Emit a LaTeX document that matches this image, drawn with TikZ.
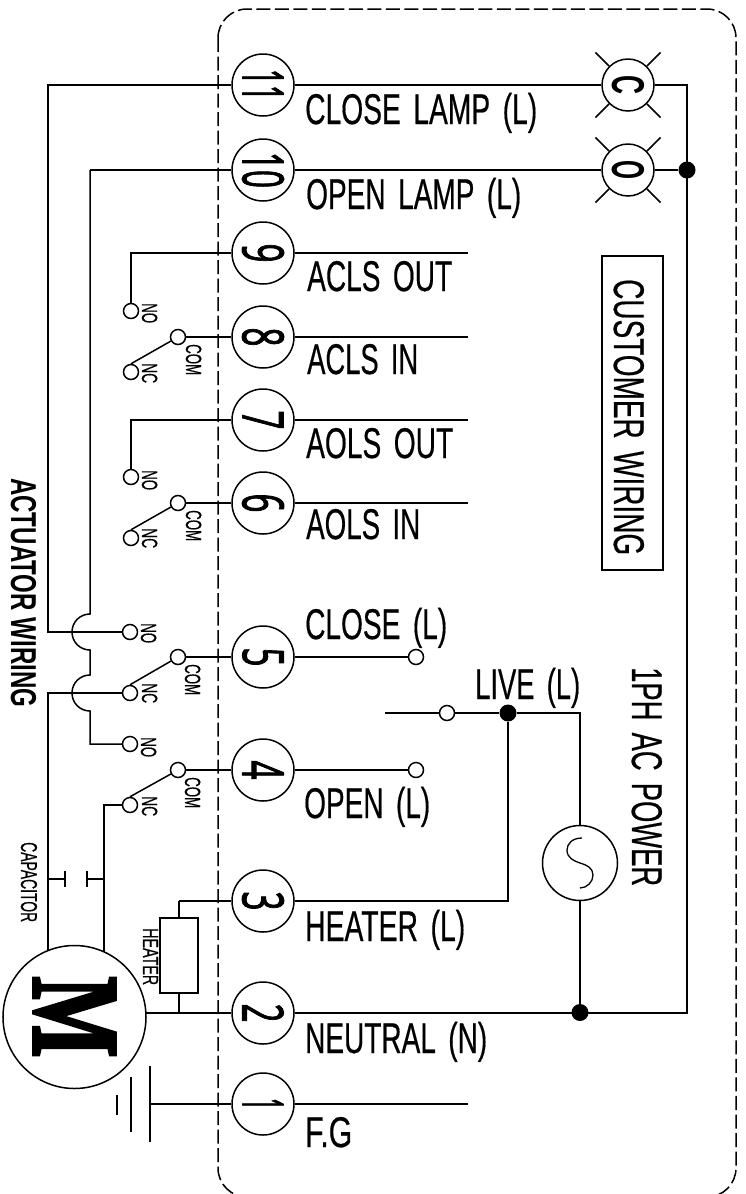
\documentclass[tikz,border=0pt]{standalone}
\usepackage{fontspec}
\usepackage{graphicx}
\usetikzlibrary{calc}
\setmainfont[WordSpace=1.6,FakeBold=0.6]{Liberation Sans}
\newfontfamily\cadbold{Liberation Sans Bold}
\newfontfamily\digitfont[FakeBold=2]{Open Sans}
\newfontfamily\mfont[FakeBold=3]{Liberation Serif Bold}
\newcommand\tx[2]{\resizebox{#1bp}{\height}{#2}}
\tikzset{
  wire/.style={line width=1.5bp,black},
  lbl/.style={inner sep=0pt,anchor=base west,font=\fontsize{43bp}{43bp}\selectfont},
  vlbl/.style={lbl,rotate=-90},
  small/.style={vlbl,font=\fontsize{22bp}{22bp}\selectfont},
  term/.style={draw,circle,line width=1.5bp,minimum size=62bp,inner sep=0pt,rotate=-90,font=\digitfont\fontsize{57bp}{57bp}\selectfont},
  lamp/.style={draw,circle,line width=1.5bp,minimum size=52bp,inner sep=0pt,rotate=-90,font=\cadbold\fontsize{46bp}{46bp}\selectfont},
  pt/.style={draw,circle,fill=white,line width=1.5bp,minimum size=15bp,inner sep=0pt},
  dot/.style={circle,fill=black,minimum size=17bp,inner sep=0pt},
}
\begin{document}
\begin{tikzpicture}[x=1bp,y=-1bp]
\useasboundingbox (0,0) rectangle (746,1194);
% customer boundary
\draw[line width=1.5bp,dash pattern=on 14bp off 4.5bp,rounded corners=29bp] (218,9) rectangle (736,1197);
% terminals
\node[term] (t11) at (263,85) {\tx{32}{11}};
\node[term] (t10) at (263,170) {\tx{36}{10}};
\node[term] (t9) at (263,253) {\tx{19}{9}};
\node[term] (t8) at (263,337) {\tx{19}{8}};
\node[term] (t7) at (263,420) {\tx{19}{7}};
\node[term] (t6) at (263,503) {\tx{19}{6}};
\node[term] (t5) at (263,657) {\tx{19}{5}};
\node[term] (t4) at (263,770) {\tx{19}{4}};
\node[term] (t3) at (263,901) {\tx{19}{3}};
\node[term] (t2) at (263,1013) {\tx{19}{2}};
\node[term] (t1) at (263,1104) {\tx{12}{1}};
% lamps
\node[lamp] (lc) at (628,85) {\tx{19}{C}};
\node[lamp] (lo) at (628,170) {\tx{19}{O}};
\foreach \l in {lc,lo}\foreach \a in {45,135,225,315}
  \draw[wire] (\l.\a) -- ($(\l)!1.72!(\l.\a)$);
% switch contacts
\node[pt] (no9) at (131,311) {};
\node[pt] (com8) at (178,337) {};
\node[pt] (nc8) at (131,372) {};
\node[pt] (no7) at (131,477) {};
\node[pt] (com6) at (178,503) {};
\node[pt] (nc6) at (131,538) {};
\node[pt] (noa) at (130,632) {};
\node[pt] (com5) at (178,657) {};
\node[pt] (nca) at (130,693) {};
\node[pt] (nob) at (130,744) {};
\node[pt] (com4) at (178,770) {};
\node[pt] (ncb) at (130,805) {};
\node[pt] (end5) at (416,657) {};
\node[pt] (end4) at (416,770) {};
\node[pt] (live) at (447,713) {};
% motor
\node[draw,circle,line width=1.5bp,minimum size=143bp,inner sep=0pt,rotate=-90,font=\mfont\fontsize{124bp}{124bp}\selectfont] (mot) at (74.5,1017) {\tx{81}{M}};
% heater
\node[draw,line width=1.5bp,minimum width=38bp,minimum height=75bp,inner sep=0pt] (heat) at (179,955.5) {};
% dots
\node[dot] (d1) at (687,170) {};
\node[dot] (d2) at (508,713) {};
\node[dot] (d3) at (580,1012.5) {};
% AC source
\node[draw,circle,line width=1.5bp,minimum size=75bp,inner sep=0pt] (src) at (580,863) {};
\draw[line width=1.3bp] (582,838) .. controls (572,838) and (567,844) .. (567,850) .. controls (567,858) and (574,861) .. (580,863) .. controls (587,865) and (593,868) .. (593,875) .. controls (593,882) and (587,888) .. (580,888);
% coordinates
\coordinate (e9) at (468,253);
\coordinate (e8) at (468,337);
\coordinate (e7) at (468,420);
\coordinate (e6) at (468,503);
\coordinate (e1) at (468,1104);
\coordinate (lstart) at (385,713);
\coordinate (c9) at (131,253);
\coordinate (c7) at (131,420);
\coordinate (a11) at (48,85);
\coordinate (b11) at (48,632);
\coordinate (a10) at (90,170);
\coordinate (c10) at (90,744);
\coordinate (amot) at (48,693);
\coordinate (bmot) at (48,951);
\coordinate (cmot) at (104,805);
\coordinate (dmot) at (104,952);
\coordinate (r1) at (687,85);
\coordinate (r2) at (687,1013);
\coordinate (liveR) at (580,713);
\coordinate (h3) at (508,901);
\coordinate (j3) at (179,901);
\coordinate (j2) at (179,1013);
\coordinate (m2) at (146,1013);
\coordinate (g0) at (150,1104);
% right-hand wiring
\draw[wire] (t11) -- (lc);
\draw[wire] (t10) -- (lo);
\draw[wire] (lc) -- (r1) -- (r2) -- (t2);
\draw[wire] (lo) -- (d1);
\draw[wire] (t9) -- (e9);
\draw[wire] (t8) -- (e8);
\draw[wire] (t7) -- (e7);
\draw[wire] (t6) -- (e6);
\draw[wire] (t1) -- (e1);
\draw[wire] (t5) -- (end5);
\draw[wire] (t4) -- (end4);
\draw[wire] (lstart) -- (live);
\draw[wire] (live) -- (d2) -- (liveR) -- (src);
\draw[wire] (src) -- (d3);
\draw[wire] (t3) -- (h3) -- (d2);
% left-hand wiring
\draw[wire] (t9) -- (c9) -- (no9);
\draw[wire] (t8) -- (com8);
\draw[wire] (t7) -- (c7) -- (no7);
\draw[wire] (t6) -- (com6);
\draw[wire] (t5) -- (com5);
\draw[wire] (t4) -- (com4);
\draw[wire] (com8) -- (nc8.north);
\draw[wire] (com6) -- (nc6.north);
\draw[wire] (com5) -- (nca.north);
\draw[wire] (com4) -- (ncb.north);
\draw[wire] (t11) -- (a11) -- (b11) -- (noa);
\draw[wire] (a10) -- (t10);
\draw[wire] (a10) -- (90,614) .. controls (80,614) and (72,622) .. (72,632) .. controls (72,642) and (80,650) .. (90,650) -- (90,675) .. controls (80,675) and (72,683) .. (72,693) .. controls (72,703) and (80,711) .. (90,711) -- (c10) -- (nob);
\draw[wire] (nca) -- (amot) -- (bmot);
\draw[wire] (ncb) -- (cmot) -- (dmot);
% capacitor
\draw[wire] (48,879) -- (65,879) (65,871) -- (65,887);
\draw[wire] (104,879) -- (87,879) (87,871) -- (87,887);
% heater and motor
\draw[wire] (j3) -- (t3);
\draw[wire] (j3) -- (heat);
\draw[wire] (heat) -- (j2);
\draw[wire] (m2) -- (t2);
% earth
\draw[wire] (t1) -- (g0);
\draw[wire] (150,1066) -- (150,1142);
\draw[wire] (131,1077) -- (131,1132);
\draw[wire] (117,1095) -- (117,1115);
% customer wiring box
\node[draw,line width=1.5bp,minimum width=61bp,minimum height=314bp,inner sep=0pt] (cbox) at (632.5,413) {};
% labels
\node[lbl] (l1) at (305,124) {\tx{232}{CLOSE LAMP (L)}};
\node[lbl] (l2) at (306,209) {\tx{215}{OPEN LAMP (L)}};
\node[lbl] (l3) at (307,291) {\tx{145}{ACLS OUT}};
\node[lbl] (l4) at (307,374) {\tx{111}{ACLS IN}};
\node[lbl] (l5) at (306,458) {\tx{147}{AOLS OUT}};
\node[lbl] (l6) at (306,539) {\tx{114}{AOLS IN}};
\node[lbl] (l7) at (305,639) {\tx{142}{CLOSE (L)}};
\node[lbl] (l8) at (475,699) {\tx{105}{LIVE (L)}};
\node[lbl] (l9) at (304,818) {\tx{126}{OPEN (L)}};
\node[lbl] (l10) at (305,941) {\tx{160}{HEATER (L)}};
\node[lbl] (l11) at (305,1053) {\tx{182}{NEUTRAL (N)}};
\node[lbl] (l12) at (305,1147) {\tx{47}{F.G}};
\node[vlbl] (v1) at (614,279) {\tx{276}{CUSTOMER WIRING}};
\node[vlbl] (v2) at (632,667) {\tx{219}{1PH AC POWER}};
\node[vlbl,font=\cadbold\fontsize{36bp}{36bp}\selectfont] (v3) at (11,478) {\tx{229}{ACTUATOR WIRING}};
\node[small,font=\fontsize{23bp}{23bp}\selectfont] (v4) at (21,842) {\tx{80}{CAPACITOR}};
\node[small] (v5) at (143,928) {\tx{57}{HEATER}};
\node[small] (s1) at (142,303) {\tx{20}{NO}};
\node[small] (s2) at (186,344) {\tx{31}{COM}};
\node[small] (s3) at (142,363) {\tx{20}{NC}};
\node[small] (s4) at (142,470) {\tx{20}{NO}};
\node[small] (s5) at (186,510) {\tx{31}{COM}};
\node[small] (s6) at (142,528) {\tx{20}{NC}};
\node[small] (s7) at (141,623) {\tx{20}{NO}};
\node[small] (s8) at (185,664) {\tx{31}{COM}};
\node[small] (s9) at (142,683) {\tx{20}{NC}};
\node[small] (s10) at (141,737) {\tx{20}{NO}};
\node[small] (s11) at (185,777) {\tx{31}{COM}};
\node[small] (s12) at (142,796) {\tx{20}{NC}};
\end{tikzpicture}
\end{document}
